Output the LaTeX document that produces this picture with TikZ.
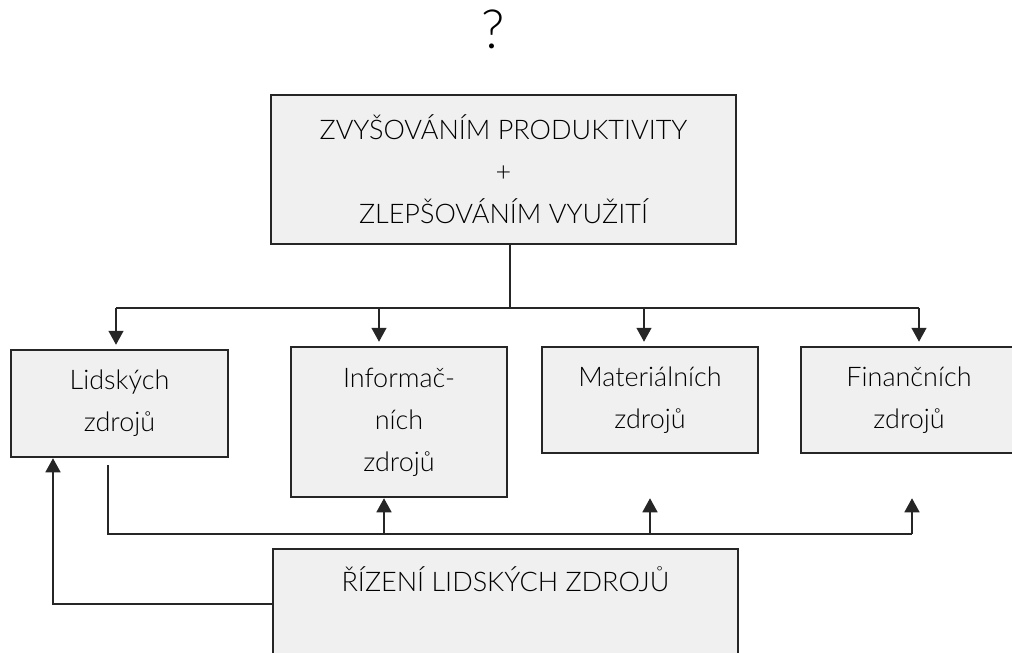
\documentclass[tikz,border=0pt]{standalone}
\usepackage{fontspec}
\setmainfont{Lato Light}
\usetikzlibrary{arrows.meta}
\tikzset{
	box/.style={draw=black!85, line width=2.5pt, fill=black!6, align=center, inner sep=0pt},
	arr/.style={-{Triangle[width=15pt,length=14pt]}},
}
\begin{document}
\begin{tikzpicture}[x=1pt,y=-1pt,line width=1.5pt,draw=black!85,every node/.style={font=\fontsize{27}{42}\selectfont}]
	\useasboundingbox (0,0) rectangle (1012,653);
	\node (q) at (493,29){\fontsize{54}{60}\selectfont ?};
	\node[box,minimum width=465,minimum height=149] (top) at (503.5,169.5){ZVYŠOVÁNÍM PRODUKTIVITY\\+\\ZLEPŠOVÁNÍM VYUŽITÍ};
	\node[box,minimum width=217,minimum height=107] (lidske) at (119.5,403.5){Lidských\\zdrojů};
	\node[box,minimum width=216,minimum height=150] (inform) at (399,422){Informač-\\ních\\zdrojů};
	\node[box,minimum width=216,minimum height=106] (mater) at (650,400){Materiálních\\zdrojů};
	\node[box,minimum width=216,minimum height=106] (financ) at (909,400){Finančních\\zdrojů};
	\node[box,minimum width=465,minimum height=156] (rizeni) at (505.5,627){ŘÍZENÍ LIDSKÝCH ZDROJŮ\\\strut\\\strut};
	% rozvod dolu
	\coordinate (split) at (510,308);
	\coordinate (t1) at (116,308);
	\coordinate (t2) at (379,308);
	\coordinate (t3) at (644,308);
	\coordinate (t4) at (919,308);
	\draw (top.south -| split)--(split);
	\draw (t1)--(t4);
	\foreach \t/\b in {t1/lidske,t2/inform,t3/mater,t4/financ}
		\draw[arr,shorten >=4pt] (\t)--(\t |- \b.north);
	% zpetna vazba
	\coordinate (b0) at (108,534);
	\coordinate (b2) at (384,534);
	\coordinate (b3) at (650,534);
	\coordinate (b4) at (912,534);
	\draw ([yshift=-7pt]lidske.south -| b0)--(b0)--(b4);
	\foreach \b in {b2,b3,b4}
		\draw[arr] (\b)--(\b |- inform.south);
	\coordinate (c0) at (53,604);
	\draw[arr] (rizeni.west |- c0)--(c0)--(c0 |- lidske.south);
\end{tikzpicture}
\end{document}
